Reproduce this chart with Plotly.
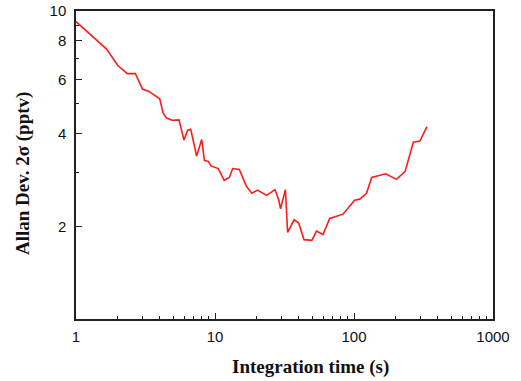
import plotly.graph_objects as go

# Integration time (s)
tau = [1.0, 1.66, 2.0, 2.34, 2.67, 3.01, 3.35, 4.0, 4.23, 4.49, 4.90, 5.51, 5.98, 6.36,
       6.69, 7.38, 8.02, 8.40, 8.95, 9.36, 10.56, 11.65, 12.67, 13.4, 14.96, 16.8, 18.4,
       20.2, 23.5, 27.0, 28.8, 29.6, 32.1, 33.3, 37.1, 40.0, 43.7, 49.8, 53.7, 59.8, 66.9,
       83.4, 101, 110, 123, 134, 169, 202, 233, 267, 298, 335]
# Allan deviation 2-sigma (pptv)
adev = [9.24, 7.52, 6.65, 6.26, 6.27, 5.58, 5.48, 5.19, 4.67, 4.49, 4.42, 4.43, 3.81, 4.10,
        4.13, 3.38, 3.83, 3.27, 3.25, 3.14, 3.08, 2.82, 2.88, 3.08, 3.06, 2.70, 2.56,
        2.62, 2.52, 2.63, 2.43, 2.28, 2.63, 1.91, 2.10, 2.05, 1.81, 1.80, 1.93, 1.88, 2.12,
        2.19, 2.43, 2.45, 2.56, 2.88, 2.96, 2.84, 3.01, 3.75, 3.78, 4.21]

x_major = [1, 10, 100, 1000]
x_major_text = ["1", "10", "100", "1000"]
x_minor = [2, 3, 4, 5, 6, 7, 8, 9, 20, 30, 40, 50, 60, 70, 80, 90,
           200, 300, 400, 500, 600, 700, 800, 900]
y_major = [2, 4, 6, 8, 10]
y_major_text = ["2", "4", "6", "8", "10"]
y_minor = [3, 5, 7, 9]
x_title = "<b>Integration time (s)</b>"
y_title = "<b>Allan Dev. 2σ (pptv)</b>"

fig = go.Figure()
fig.add_trace(go.Scatter(x=tau, y=adev, mode="lines",
                         line=dict(color="#ff1a1a", width=1.6), showlegend=False))

axis_common = dict(
    type="log", showline=True, linecolor="#222", linewidth=1.5, mirror=True,
    showgrid=False, zeroline=False, ticks="inside", ticklen=6, tickwidth=1.2,
    tickcolor="#222", automargin=False,
    tickfont=dict(family="Liberation Sans, Arial", size=15, color="#111"),
)

fig.update_xaxes(
    **axis_common, range=[0, 3], tickvals=x_major, ticktext=x_major_text,
    ticklabelstandoff=3,
    minor=dict(tickvals=x_minor, ticks="inside", ticklen=3.5, tickwidth=1.1, tickcolor="#222", showgrid=False),
)
fig.update_yaxes(
    **axis_common, range=[0, 1], tickvals=y_major, ticktext=y_major_text,
    ticklabelstandoff=5,
    minor=dict(tickvals=y_minor, ticks="inside", ticklen=3.5, tickwidth=1.1, tickcolor="#222", showgrid=False),
)

title_font = dict(family="Liberation Serif, Times New Roman", size=19, color="#111")
plot_w, plot_h = 417.0, 308.0
fig.add_annotation(text=x_title, xref="paper", yref="paper",
                   x=(310 - 76) / plot_w, y=(319 - 367) / plot_h,
                   xanchor="center", yanchor="middle", showarrow=False, font=title_font)
fig.add_annotation(text=y_title, xref="paper", yref="paper",
                   x=(23 - 76) / plot_w, y=(319 - 174) / plot_h, textangle=-90,
                   xanchor="center", yanchor="middle", showarrow=False, font=title_font)

fig.update_layout(
    width=521, height=381, margin=dict(l=76, r=28, t=11, b=62),
    paper_bgcolor="white", plot_bgcolor="white",
)

fig.write_html("out.html")
